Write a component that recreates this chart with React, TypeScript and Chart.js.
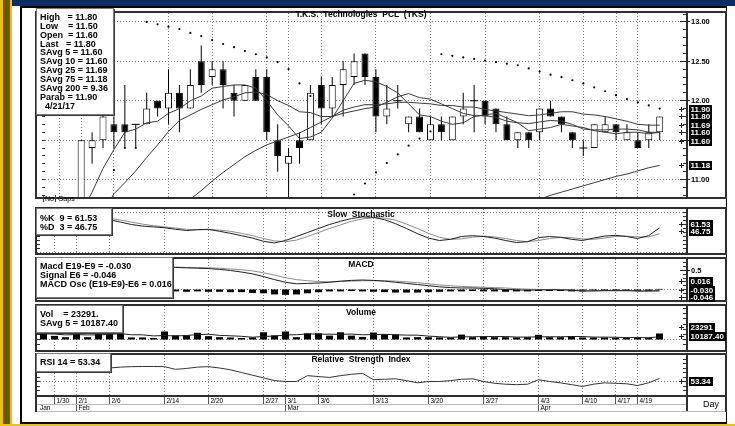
import React, { useEffect, useRef } from 'react';
import { Chart, registerables } from 'chart.js';

Chart.register(...registerables);

// ---------------- data ----------------
const dates = ['1/27','1/30','1/31','2/1','2/2','2/3','2/6','2/7','2/8','2/9','2/10','2/14','2/15','2/16','2/17','2/20','2/21','2/22','2/23','2/24','2/27','2/28','3/1','3/2','3/3','3/6','3/7','3/8','3/9','3/10','3/13','3/14','3/15','3/16','3/17','3/20','3/21','3/22','3/23','3/24','3/27','3/28','3/29','3/30','3/31','4/3','4/4','4/5','4/7','4/10','4/11','4/12','4/17','4/18','4/19','4/20','4/21'];

const openP = [10.2,10.3,10.4,10.5,11.4,11.5,11.7,11.7,11.7,11.7, 12.0,11.9,12.1,11.9,12.5,12.3,12.4,12.1,12.0,12.3, 12.3,11.5,11.2,11.5,11.5,12.2,11.9,12.2,12.3,12.6, 12.3,11.8,12.0,11.7,11.8,11.5,11.7,11.5,11.8,12.0, 12.0,11.9,11.7,11.5,11.6,11.6,11.9,11.8,11.6,11.4, 11.4,11.6,11.7,11.5,11.5,11.5,11.6];
const highP = [10.4,10.5,10.6,11.5,11.6,11.9,11.8,12.2,11.7,12.1, 12.0,12.4,12.2,12.4,12.7,12.5,12.5,12.2,12.2,12.4, 12.4,11.7,11.4,11.6,12.2,12.3,12.3,12.5,12.6,12.6, 12.4,12.2,12.2,11.8,11.9,11.8,11.8,11.8,12.1,12.2, 12.0,11.9,11.8,11.6,11.6,11.9,12.0,11.8,11.6,11.5, 11.7,11.8,11.7,11.7,11.6,11.7,11.8];
const lowP = [10.2,10.3,10.4,10.5,11.2,11.4,11.4,11.4,11.4,11.7, 11.8,11.7,11.6,11.9,12.1,12.2,11.9,11.8,12.0,12.0, 11.5,11.1,10.7,11.2,11.5,11.7,11.8,11.8,12.2,12.2, 11.6,11.7,11.9,11.6,11.6,11.5,11.5,11.5,11.7,11.6, 11.7,11.6,11.5,11.4,11.4,11.5,11.8,11.6,11.4,11.3, 11.4,11.6,11.5,11.5,11.4,11.4,11.5];
const closeP = [10.3,10.4,10.5,11.5,11.5,11.8,11.6,11.6,11.7,11.9, 11.9,12.1,11.9,12.2,12.2,12.4,12.2,12.0,12.2,12.0, 11.6,11.3,11.3,11.4,12.1,11.9,12.2,12.4,12.5,12.3, 11.8,11.9,12.0,11.8,11.6,11.7,11.6,11.8,11.9,12.0, 11.8,11.7,11.5,11.6,11.5,11.9,11.8,11.7,11.5,11.4, 11.7,11.7,11.6,11.6,11.4,11.6,11.8];

const sma5 = [10.10,10.18,10.30,10.58,10.84,11.14,11.38,11.60,11.64,11.72, 11.74,11.84,11.90,12.00,12.06,12.16,12.18,12.20,12.20,12.16, 12.00,11.82,11.68,11.52,11.54,11.60,11.78,12.00,12.22,12.26, 12.24,12.18,12.10,11.96,11.82,11.80,11.74,11.70,11.72,11.80, 11.82,11.84,11.78,11.72,11.62,11.64,11.66,11.70,11.68,11.66, 11.62,11.60,11.58,11.60,11.60,11.58,11.60];
const sma10 = [10.00,10.04,10.10,10.24,10.38,10.58,10.82,10.96,11.11,11.28, 11.44,11.61,11.75,11.82,11.89,11.95,12.01,12.05,12.10,12.11, 12.08,12.00,11.94,11.86,11.85,11.80,11.80,11.84,11.87,11.90, 11.92,11.98,12.05,12.09,12.04,12.02,11.96,11.90,11.84,11.81, 11.81,11.79,11.74,11.72,11.71,11.73,11.75,11.74,11.70,11.64, 11.63,11.63,11.64,11.64,11.63,11.60,11.60];
const sma25 = [9.90,9.93,9.96,10.00,10.06,10.12,10.18,10.24,10.30,10.37, 10.45,10.54,10.64,10.75,10.86,10.98,11.09,11.19,11.29,11.37, 11.44,11.49,11.54,11.59,11.66,11.73,11.80,11.88,11.92,11.95, 11.95,11.96,11.98,11.98,11.97,11.96,11.94,11.94,11.92,11.92, 11.89,11.87,11.85,11.83,11.81,11.82,11.84,11.86,11.86,11.83, 11.82,11.80,11.77,11.74,11.70,11.69,11.69];
const sma75 = [null,null,null,null,null,null,null,null,null,null, null,null,null,null,null,null,null,null,null,null, null,null,null,null,null,null,null,null,null,null, null,null,null,null,null,null,null,null,null,null, null,null,10.64,10.67,10.71,10.75,10.80,10.84,10.88,10.92, 10.96,11.00,11.04,11.07,11.11,11.15,11.18];
const sma200Last = 9.36;
const sar = [null,null,null,10.20,10.40,10.70,11.12,11.40,11.40,13.00, 12.97,12.94,12.91,12.86,12.82,12.77,12.72,12.68,12.63,12.59, 12.55,12.49,12.40,12.22,12.06,10.55,10.62,10.70,10.81,10.95, 11.09,11.21,11.32,11.43,11.52,11.61,12.59,12.57,12.55,12.53, 12.51,12.49,12.47,12.45,12.41,12.37,12.33,12.30,12.26,12.22, 12.17,12.12,12.07,12.02,11.98,11.94,11.90];

const stochK = [90,92,93,92,90,86,82,76,70,66, 64,62,58,55,57,58,53,48,42,36, 28,24,30,40,50,60,70,78,85,89, 88,82,72,60,47,36,30,33,40,42, 40,36,30,25,27,37,40,38,33,30, 36,41,43,40,35,42,61.53];
const stochD = [86,88,90,92,92,90,86,81,76,71, 67,64,61,58,57,57,56,53,48,42, 35,29,27,31,40,50,60,69,78,84, 87,86,81,71,60,48,38,33,34,38, 41,39,35,30,27,30,35,38,37,34, 33,36,40,41,39,39,46.75];

const macdLine = [0.45,0.50,0.53,0.56,0.58,0.59,0.60,0.60,0.60,0.60, 0.59,0.59,0.58,0.57,0.56,0.55,0.53,0.50,0.46,0.41, 0.34,0.26,0.19,0.15,0.16,0.17,0.19,0.22,0.24,0.25, 0.24,0.22,0.19,0.16,0.13,0.10,0.07,0.05,0.04,0.04, 0.03,0.02,0.00,-0.01,-0.02,-0.01,-0.01,-0.01,-0.02,-0.04, -0.04,-0.03,-0.03,-0.03,-0.04,-0.04,-0.030];
const macdSignal = [0.40,0.45,0.49,0.52,0.55,0.57,0.58,0.59,0.59,0.60, 0.60,0.60,0.59,0.58,0.58,0.57,0.56,0.54,0.52,0.49, 0.44,0.38,0.31,0.26,0.23,0.21,0.20,0.21,0.22,0.23, 0.23,0.23,0.22,0.20,0.18,0.15,0.12,0.10,0.08,0.07, 0.06,0.05,0.04,0.02,0.01,0.00,0.00,0.00,-0.01,-0.02, -0.03,-0.03,-0.03,-0.03,-0.04,-0.04,-0.046];
const macdOsc = [-0.04,-0.04,-0.05,-0.05,-0.04,-0.04,-0.05,-0.05,-0.04,-0.05, -0.05,-0.05,-0.05,-0.06,-0.05,-0.06,-0.06,-0.07,-0.07,-0.09, -0.10,-0.13,-0.14,-0.13,-0.10,-0.07,-0.05,-0.05,-0.04,-0.05, -0.06,-0.07,-0.08,-0.08,-0.08,-0.07,-0.06,-0.05,-0.05,-0.04, -0.05,-0.05,-0.06,-0.05,-0.05,-0.04,-0.04,-0.04,-0.05,-0.05, -0.04,-0.04,-0.04,-0.04,-0.04,-0.04,0.016];

const volume = [27000,14000,9000,30000,9000,27000,24000,24000,8000,8000, 6000,31000,16000,16000,26000,13000,9000,8000,6000,8000, 28000,16000,31000,9000,24000,24000,15000,28000,15000,10000, 27000,20000,20000,8000,9000,9000,8000,8000,19000,9000, 12000,9000,9000,8000,9000,18000,9000,9000,13000,8000, 8000,8000,6600,6900,7200,6950,23291];
const volAvg5 = [22000,21000,18000,19000,17800,17800,19800,22800,18400,18200, 14000,15400,13800,15400,19000,20400,16000,14400,12400,8800, 11800,13200,17800,18400,21600,20800,20600,20000,21200,18400, 19000,20000,18400,17000,16800,13200,10800,8400,10600,10600, 11200,11400,11600,9400,9400,10600,10600,10600,11600,11400, 9400,9200,8720,7500,7340,7130,10187.40];

const rsi14 = [70,72,74,72,70,68,65,66,66.5,66.7, 66.7,66.5,63.5,64.5,66,66.5,65,63,60,57, 54,51,50,50,56.5,55.5,54.5,56.5,58,59, 52,52.5,53,51,48.5,50,50,51,52.5,53, 50,48,47,46.5,47,52,50,48.5,46.5,44.5, 47,48.5,48,47.5,45.5,48.5,53.34];

const tickDates = ['1/30','2/1','2/6','2/14','2/20','2/27','3/1','3/6','3/13','3/20','3/27','4/3','4/10','4/17','4/19'];
const monthNames = ['Jan','Feb','Mar','Apr'];
const monthFirstDay = ['', '2/1', '3/1', '4/3'];
const priceGrid = [11, 11.5, 12, 12.5, 13];
const priceLabels = [11, 11.5, 12, 12.5, 13];

// ---------------- layout constants ----------------
const FONT = '"Liberation Sans", Arial, Helvetica, sans-serif';
const X_MIN = -8.5 / 11;
const X_MAX = X_MIN + 651 / 11;
const LAST = dates.length - 1;
const idx = dates.map((_, i) => i);

type Label = { value: number; text: string; dy?: number };
type Spec = {
  gridY: number[];
  tickFrom: number;
  tickStep: number;
  plain: Label[];
  boxes: Label[];
  xAxis?: boolean;
};

function decoPlugin(spec: Spec) {
  return {
    id: 'deco',
    beforeDatasetsDraw(chart: any) {
      const { ctx, chartArea: a } = chart;
      const xs = chart.scales.x;
      const ys = chart.scales.y;
      ctx.save();
      ctx.strokeStyle = '#7a7a7a';
      ctx.lineWidth = 1;
      ctx.setLineDash([1, 2]);
      ctx.beginPath();
      tickDates.forEach((d) => {
        const x = Math.floor(xs.getPixelForValue(dates.indexOf(d))) + 0.5;
        ctx.moveTo(x, a.top + 2);
        ctx.lineTo(x, a.bottom - 2);
      });
      spec.gridY.forEach((v) => {
        const y = Math.floor(ys.getPixelForValue(v)) + 0.5;
        ctx.moveTo(a.left + 2, y);
        ctx.lineTo(a.right, y);
      });
      ctx.stroke();
      ctx.restore();
    },
    afterDatasetsDraw(chart: any) {
      const { ctx, chartArea: a } = chart;
      const W = chart.width;
      const H = chart.height;
      const xs = chart.scales.x;
      const ys = chart.scales.y;
      ctx.save();
      ctx.setLineDash([]);
      // minor ticks
      ctx.strokeStyle = '#333';
      ctx.lineWidth = 1;
      ctx.beginPath();
      for (let k = 0; k < 400; k++) {
        const v = spec.tickFrom + k * spec.tickStep;
        if (v > ys.max) break;
        const y = Math.floor(ys.getPixelForValue(v)) + 0.5;
        if (y < a.top + 3 || y > a.bottom - 3) continue;
        ctx.moveTo(a.left + 2, y);
        ctx.lineTo(a.left + 5, y);
        ctx.moveTo(a.right - 3, y);
        ctx.lineTo(a.right, y);
      }
      ctx.stroke();
      // frame
      ctx.strokeStyle = '#2e2e2e';
      ctx.lineWidth = 2;
      ctx.strokeRect(1, a.top + 1, W - 2, a.bottom - a.top - 2);
      ctx.beginPath();
      ctx.moveTo(a.right + 1, a.top);
      ctx.lineTo(a.right + 1, spec.xAxis ? H - 1 : a.bottom);
      ctx.stroke();
      // plain labels
      ctx.lineWidth = 1;
      ctx.strokeStyle = '#222';
      ctx.textBaseline = 'middle';
      ctx.textAlign = 'left';
      ctx.font = `bold 7.5px ${FONT}`;
      spec.plain.forEach((l) => {
        const y = Math.floor(ys.getPixelForValue(l.value)) + 0.5;
        ctx.beginPath();
        ctx.moveTo(a.right - 6, y);
        ctx.lineTo(a.right + 4, y);
        ctx.stroke();
        ctx.fillStyle = '#000';
        ctx.fillText(l.text, a.right + 5, y + 0.5);
      });
      // boxed value labels
      ctx.font = `bold 8px ${FONT}`;
      spec.boxes.forEach((l) => {
        const y = Math.round(ys.getPixelForValue(l.value) + (l.dy || 0));
        ctx.strokeStyle = '#222';
        ctx.beginPath();
        ctx.moveTo(a.right - 7, y + 0.5);
        ctx.lineTo(a.right - 2, y + 0.5);
        ctx.moveTo(a.right - 4.5, y - 2);
        ctx.lineTo(a.right - 4.5, y + 3);
        ctx.stroke();
        const w = Math.ceil(ctx.measureText(l.text).width) + 3;
        ctx.fillStyle = '#000';
        ctx.fillRect(a.right + 3, y - 4, w, 9);
        ctx.fillStyle = '#fff';
        ctx.fillText(l.text, a.right + 4.5, y + 0.5);
      });
      // date axis
      if (spec.xAxis) {
        const b = a.bottom;
        ctx.strokeStyle = '#555';
        ctx.lineWidth = 1;
        ctx.fillStyle = '#000';
        ctx.font = `6.5px ${FONT}`;
        tickDates.forEach((d) => {
          const x = Math.floor(xs.getPixelForValue(dates.indexOf(d))) + 0.5;
          ctx.beginPath();
          ctx.moveTo(x, b);
          ctx.lineTo(x, b + 7);
          ctx.stroke();
          ctx.fillText(d, x + 2, b + 4);
        });
        monthNames.forEach((m, k) => {
          const first = monthFirstDay[k];
          let tx = a.left + 5;
          if (first) {
            const x = Math.floor(xs.getPixelForValue(dates.indexOf(first))) + 0.5;
            ctx.beginPath();
            ctx.moveTo(x, b);
            ctx.lineTo(x, b + 14);
            ctx.stroke();
            tx = x + 2;
          }
          ctx.fillText(m, tx, b + 11);
        });
        ctx.strokeStyle = '#b8b8b8';
        ctx.beginPath();
        ctx.moveTo(2, b + 7.5);
        ctx.lineTo(a.right, b + 7.5);
        ctx.moveTo(0, b + 14.5);
        ctx.lineTo(W, b + 14.5);
        ctx.stroke();
        ctx.strokeStyle = '#2e2e2e';
        ctx.lineWidth = 2;
        ctx.beginPath();
        ctx.moveTo(1, b);
        ctx.lineTo(1, b + 15);
        ctx.moveTo(W - 1, b);
        ctx.lineTo(W - 1, b + 15);
        ctx.stroke();
      }
      ctx.restore();
    },
  };
}

function baseOptions(yMin: number, yMax: number, bottomPad = 0): any {
  return {
    responsive: false,
    maintainAspectRatio: false,
    animation: false,
    devicePixelRatio: 1,
    events: [],
    layout: { padding: { left: 0, right: 41, top: 0, bottom: bottomPad } },
    plugins: { legend: { display: false }, tooltip: { enabled: false }, title: { display: false } },
    scales: {
      x: { type: 'linear', min: X_MIN, max: X_MAX, display: false, offset: false },
      y: { type: 'linear', min: yMin, max: yMax, display: false },
    },
  };
}

const lineDs = (data: any[], color: string, order = 1) => ({
  type: 'line',
  data,
  borderColor: color,
  borderWidth: 1,
  pointRadius: 0,
  tension: 0,
  fill: false,
  spanGaps: false,
  order,
});

// ---------------- HTML helpers ----------------
function LegendBox(props: { left: number; top: number; width: number; height: number; padTop: number; lineH: number; lines: string[] }) {
  const { left, top, width, height, padTop, lineH, lines } = props;
  return (
    <div
      style={{
        position: 'absolute', left, top, width, height, boxSizing: 'border-box', background: '#fff',
        border: '1px solid #7a7a7a', boxShadow: '1px 1px 0 #3a3a3a', font: `bold 9px ${FONT}`, color: '#000',
        whiteSpace: 'pre', paddingLeft: 3, paddingTop: padTop, lineHeight: `${lineH}px`, overflow: 'hidden',
      }}
    >
      {lines.map((t, i) => (
        <div key={i} style={{ height: lineH }}>{t}</div>
      ))}
    </div>
  );
}

function Title(props: { cy: number; text: string }) {
  return (
    <div
      style={{
        position: 'absolute', left: 211, width: 300, top: props.cy - 5, height: 10, lineHeight: '10px',
        textAlign: 'center', font: `bold 8.5px ${FONT}`, whiteSpace: 'pre', color: '#000',
      }}
    >
      {props.text}
    </div>
  );
}

const frameParts = [
  { left: 0, top: 0, width: 3, height: 426, background: '#f0c010' },
  { left: 3, top: 0, width: 7, height: 426, background: '#6b5709' },
  { left: 10, top: 0, width: 2, height: 426, background: '#f0c010' },
  { left: 12, top: 0, width: 723, height: 6, background: '#0c2f5e' },
  { left: 20, top: 6, width: 707, height: 2, background: '#000' },
  { left: 20, top: 6, width: 2, height: 418, background: '#000' },
  { left: 20, top: 422, width: 707, height: 2, background: '#000' },
  { left: 726, top: 6, width: 1, height: 418, background: '#000' },
  { left: 0, top: 424, width: 735, height: 2, background: '#f0c010' },
];

export default function App() {
  const mainRef = useRef<HTMLCanvasElement>(null);
  const stochRef = useRef<HTMLCanvasElement>(null);
  const macdRef = useRef<HTMLCanvasElement>(null);
  const volRef = useRef<HTMLCanvasElement>(null);
  const rsiRef = useRef<HTMLCanvasElement>(null);

  useEffect(() => {
    const charts: Chart[] = [];

    // ---- price panel ----
    const mainSpec: Spec = {
      gridY: priceGrid,
      tickFrom: 10.8,
      tickStep: 0.1,
      plain: priceLabels.map((v) => ({ value: v, text: v.toFixed(2) })),
      boxes: [
        { value: sar[LAST] as number, text: (sar[LAST] as number).toFixed(2) },
        { value: closeP[LAST], text: closeP[LAST].toFixed(2) },
        { value: sma25[LAST], text: sma25[LAST].toFixed(2) },
        { value: sma5[LAST], text: sma5[LAST].toFixed(2) },
        { value: sma10[LAST], text: sma10[LAST].toFixed(2), dy: 8.5 },
        { value: sma75[LAST] as number, text: (sma75[LAST] as number).toFixed(2) },
      ],
    };
    charts.push(
      new Chart(mainRef.current as HTMLCanvasElement, {
        type: 'bar',
        data: {
          labels: idx,
          datasets: [
            {
              type: 'bar',
              data: closeP.map((c, i) => [openP[i], c]),
              backgroundColor: closeP.map((c, i) => (c >= openP[i] ? '#ffffff' : '#000000')),
              borderColor: '#000',
              borderWidth: 1,
              borderSkipped: false,
              barThickness: 7,
              grouped: false,
              inflateAmount: 0,
              order: 2,
            },
            {
              type: 'bar',
              data: highP.map((h, i) => [lowP[i], h]),
              backgroundColor: '#000',
              borderWidth: 0,
              barThickness: 1,
              grouped: false,
              inflateAmount: 0,
              order: 3,
            },
            {
              type: 'line',
              data: closeP.map((c, i) => (c === openP[i] ? c : null)),
              showLine: false,
              pointStyle: 'line',
              pointRadius: 4,
              pointBorderColor: '#000',
              pointBorderWidth: 1,
              borderColor: '#000',
              order: 1,
            },
            lineDs(sma5, '#3a3a3a'),
            lineDs(sma10, '#3a3a3a'),
            lineDs(sma25, '#3a3a3a'),
            lineDs(sma75, '#3a3a3a'),
            {
              type: 'line',
              data: sar,
              showLine: false,
              pointRadius: 1.1,
              pointBackgroundColor: '#000',
              pointBorderWidth: 0,
              borderColor: '#000',
              order: 0,
            },
          ] as any,
        },
        options: baseOptions(11 - 20.5 / 83, 13 + 11.5 / 83),
        plugins: [decoPlugin(mainSpec)],
      } as any)
    );

    // ---- slow stochastic ----
    charts.push(
      new Chart(stochRef.current as HTMLCanvasElement, {
        type: 'line',
        data: {
          labels: idx,
          datasets: [lineDs(stochK, '#1e1e1e'), lineDs(stochD, '#8a8a8a')] as any,
        },
        options: baseOptions(-6.25, 113.75),
        plugins: [
          decoPlugin({
            gridY: [0, 100],
            tickFrom: 0,
            tickStep: 10,
            plain: [],
            boxes: [
              { value: stochK[LAST], text: stochK[LAST].toFixed(2), dy: -3.5 },
              { value: stochD[LAST], text: stochD[LAST].toFixed(2), dy: -2.5 },
            ],
          }),
        ],
      } as any)
    );

    // ---- MACD ----
    charts.push(
      new Chart(macdRef.current as HTMLCanvasElement, {
        type: 'bar',
        data: {
          labels: idx,
          datasets: [
            {
              type: 'bar',
              data: macdOsc,
              backgroundColor: '#000',
              borderWidth: 0,
              barThickness: 7,
              grouped: false,
              inflateAmount: 0,
              order: 2,
            },
            lineDs(macdLine, '#1e1e1e'),
            lineDs(macdSignal, '#8a8a8a'),
          ] as any,
        },
        options: baseOptions(-12.5 / 38, 32.5 / 38),
        plugins: [
          decoPlugin({
            gridY: [0],
            tickFrom: -0.3,
            tickStep: 0.1,
            plain: [{ value: 0.5, text: '0.5' }],
            boxes: [
              { value: macdOsc[LAST], text: macdOsc[LAST].toFixed(3), dy: -7.5 },
              { value: macdLine[LAST], text: macdLine[LAST].toFixed(3), dy: -1 },
              { value: macdSignal[LAST], text: macdSignal[LAST].toFixed(3), dy: 6 },
            ],
          }),
        ],
      } as any)
    );

    // ---- volume ----
    charts.push(
      new Chart(volRef.current as HTMLCanvasElement, {
        type: 'bar',
        data: {
          labels: idx,
          datasets: [
            {
              type: 'bar',
              data: volume,
              backgroundColor: '#000',
              borderWidth: 0,
              barThickness: 7,
              grouped: false,
              inflateAmount: 0,
              order: 2,
            },
            lineDs(volAvg5, '#1e1e1e'),
          ] as any,
        },
        options: baseOptions(-12.5 * 3880, 35.5 * 3880),
        plugins: [
          decoPlugin({
            gridY: [0],
            tickFrom: -40000,
            tickStep: 20000,
            plain: [],
            boxes: [
              { value: volume[LAST], text: volume[LAST].toFixed(0), dy: -6.5 },
              { value: volAvg5[LAST], text: volAvg5[LAST].toFixed(2), dy: -1 },
            ],
          }),
        ],
      } as any)
    );

    // ---- RSI + date axis ----
    charts.push(
      new Chart(rsiRef.current as HTMLCanvasElement, {
        type: 'line',
        data: {
          labels: idx,
          datasets: [lineDs(rsi14, '#333333')] as any,
        },
        options: baseOptions(50 - 15.5 / 0.9, 80 + 1.5 / 0.9, 15),
        plugins: [
          decoPlugin({
            gridY: [50, 80],
            tickFrom: 35,
            tickStep: 5,
            plain: [],
            boxes: [{ value: rsi14[LAST], text: rsi14[LAST].toFixed(2), dy: 3 }],
            xAxis: true,
          }),
        ],
      } as any)
    );

    return () => charts.forEach((c) => c.destroy());
  }, []);

  const canvasStyle = (top: number, h: number): React.CSSProperties => ({
    position: 'absolute', left: 35, top, width: 692, height: h, display: 'block',
  });

  const f2 = (v: number) => v.toFixed(2);

  return (
    <div style={{ position: 'fixed', left: 0, top: 0, width: 735, height: 426, background: '#fff', overflow: 'hidden' }}>
      {frameParts.map((p, i) => (
        <div key={i} style={{ position: 'absolute', ...p }} />
      ))}
      <canvas ref={mainRef} width={692} height={198} style={canvasStyle(6, 198)} />
      <canvas ref={stochRef} width={692} height={48} style={canvasStyle(207, 48)} />
      <canvas ref={macdRef} width={692} height={45} style={canvasStyle(257, 45)} />
      <canvas ref={volRef} width={692} height={48} style={canvasStyle(304, 48)} />
      <canvas ref={rsiRef} width={692} height={59} style={canvasStyle(353, 59)} />

      <Title cy={14} text="T.K.S.  Technologies  PCL  (TKS)" />
      <Title cy={214} text="Slow  Stochastic" />
      <Title cy={264} text="MACD" />
      <Title cy={312} text="Volume" />
      <Title cy={359} text="Relative  Strength  Index" />

      <LegendBox
        left={36} top={8} width={78} height={107} padTop={4} lineH={8.87}
        lines={[
          `High   = ${f2(highP[LAST])}`,
          `Low    = ${f2(lowP[LAST])}`,
          `Open  = ${f2(openP[LAST])}`,
          `Last   = ${f2(closeP[LAST])}`,
          `SAvg 5 = ${f2(sma5[LAST])}`,
          `SAvg 10 = ${f2(sma10[LAST])}`,
          `SAvg 25 = ${f2(sma25[LAST])}`,
          `SAvg 75 = ${f2(sma75[LAST] as number)}`,
          `SAvg 200 = ${f2(sma200Last)}`,
          `Parab = ${f2(sar[LAST] as number)}`,
          `  4/21/17`,
        ]}
      />
      <LegendBox
        left={36} top={208} width={76} height={27} padTop={4.5} lineH={9.4}
        lines={[`%K  9 = ${f2(stochK[LAST])}`, `%D  3 = ${f2(stochD[LAST])}`]}
      />
      <LegendBox
        left={36} top={257} width={137} height={41} padTop={4} lineH={9.15}
        lines={[
          `Macd E19-E9 = ${macdLine[LAST].toFixed(3)}`,
          `Signal E6 = ${macdSignal[LAST].toFixed(3)}`,
          `MACD Osc (E19-E9)-E6 = ${macdOsc[LAST].toFixed(3)}`,
        ]}
      />
      <LegendBox
        left={36} top={305} width={87} height={28} padTop={4} lineH={8.5}
        lines={[`Vol    = ${volume[LAST]}.`, `SAvg 5 = ${f2(volAvg5[LAST])}`]}
      />
      <LegendBox
        left={36} top={353} width={75} height={19} padTop={3.8} lineH={9}
        lines={[`RSI 14 = ${f2(rsi14[LAST])}`]}
      />

      <div style={{ position: 'absolute', left: 43, top: 195, height: 9, lineHeight: '9px', font: `7px ${FONT}`, whiteSpace: 'pre', color: '#000' }}>
        <span style={{ borderLeft: '1px solid #444', borderRight: '1px solid #444', padding: '0 1px' }}>No</span> Gaps
      </div>
      <div style={{ position: 'absolute', left: 703, top: 399, lineHeight: '10px', font: `9px ${FONT}`, color: '#000' }}>Day</div>
    </div>
  );
}
